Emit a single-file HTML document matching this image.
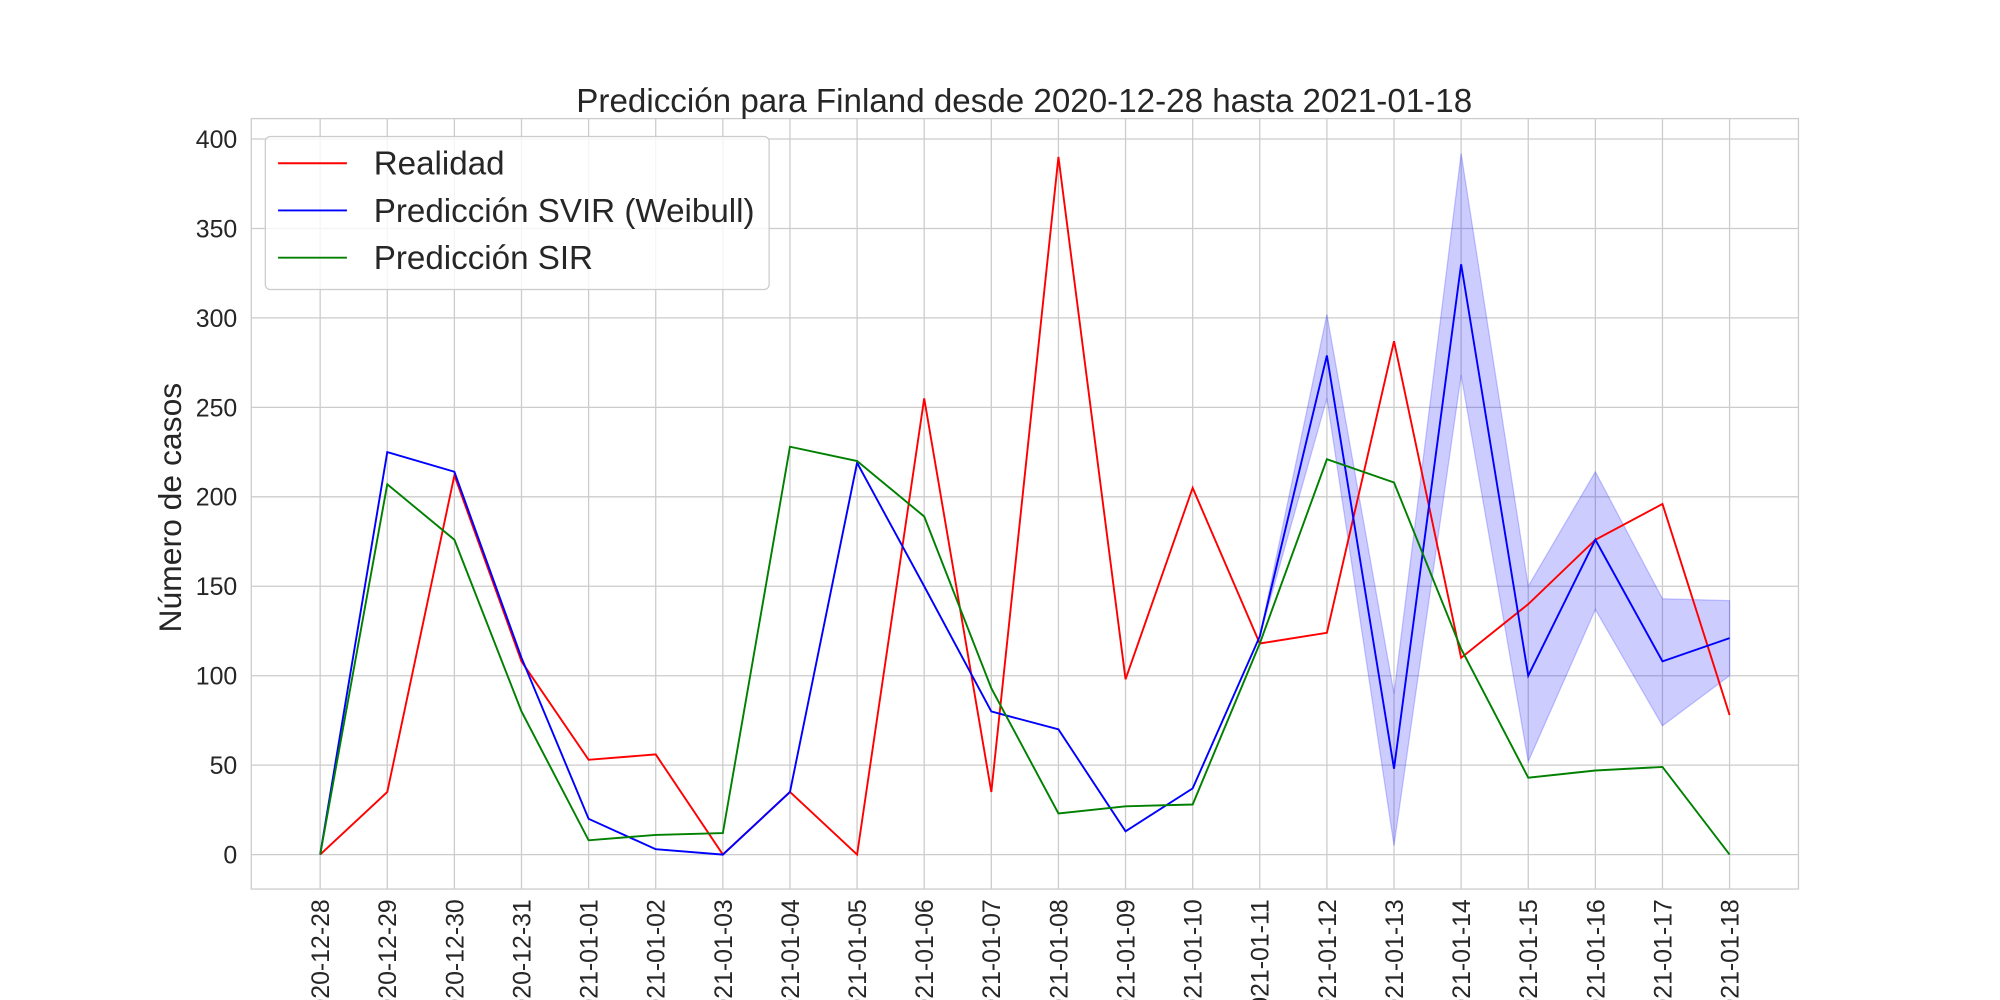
<!DOCTYPE html>
<html><head><meta charset="utf-8"><style>html,body{margin:0;padding:0;background:#fff}svg{display:block}</style></head>
<body>
<svg id="chart" width="2000" height="1000" viewBox="0 0 1568 784" xmlns="http://www.w3.org/2000/svg" font-family="Liberation Sans, sans-serif">
<rect width="1568" height="784" fill="#fff"/>
<g id="grid"></g>
<g id="band"></g>
<g id="lines"></g>
<rect x="197" y="93" width="1213" height="604" fill="none" stroke="#cccccc" stroke-width="1"/>
<g id="yticks"></g>
<g id="xticks"></g>
<text x="803" y="88" text-anchor="middle" font-size="26" fill="#262626">Predicción para Finland desde 2020-12-28 hasta 2021-01-18</text>
<text transform="translate(142,398) rotate(-90)" text-anchor="middle" font-size="25" fill="#262626">Número de casos</text>
<g>
<rect x="208" y="107" width="395" height="120" rx="4" fill="#fff" fill-opacity="0.8" stroke="#cccccc"/>
<g><line x1="218" y1="128" x2="272" y2="128" stroke="red" stroke-width="1.5"/><text x="293" y="137" font-size="26" fill="#262626">Realidad</text></g>
<g><line x1="218" y1="165" x2="272" y2="165" stroke="blue" stroke-width="1.5"/><text x="293" y="174" font-size="26" fill="#262626">Predicción SVIR (Weibull)</text></g>
<g><line x1="218" y1="202" x2="272" y2="202" stroke="green" stroke-width="1.5"/><text x="293" y="211" font-size="26" fill="#262626">Predicción SIR</text></g>
</g>
</svg>
<script>
const dates=["2020-12-28","2020-12-29","2020-12-30","2020-12-31","2021-01-01","2021-01-02","2021-01-03","2021-01-04","2021-01-05","2021-01-06","2021-01-07","2021-01-08","2021-01-09","2021-01-10","2021-01-11","2021-01-12","2021-01-13","2021-01-14","2021-01-15","2021-01-16","2021-01-17","2021-01-18"];
const realidad=[0,35,212,108,53,56,0,35,0,255,35,390,98,205,118,124,287,110,140,176,196,78];
const svir=[0,225,214,110,20,3,0,35,219,150,80,70,13,37,122,279,48,330,100,176,108,121];
const sir=[0,207,176,80,8,11,12,228,220,189,93,23,27,28,118,221,208,115,43,47,49,0];
const svirUpper=[0,225,214,110,20,3,0,35,219,150,80,70,13,37,122,302,90,392,150,214,143,142];
const svirLower=[0,225,214,110,20,3,0,35,219,150,80,70,13,37,122,255,5,268,52,137,72,100];
const yTicks=[0,50,100,150,200,250,300,350,400];
const NS="http://www.w3.org/2000/svg";
function X(i){return 251+i*(1356-251)/(dates.length-1);}
function Y(v){return 670-v*(670-109)/400;}
function mk(tag,attrs,parent){const e=document.createElementNS(NS,tag);for(const k in attrs)e.setAttribute(k,attrs[k]);document.getElementById(parent).appendChild(e);return e;}
yTicks.forEach(v=>{
 const g=mk('line',{x1:197,x2:1410,y1:Y(v),y2:Y(v),stroke:'#cccccc','stroke-width':1},'grid');
 
 
 const t=mk('text',{x:186,y:Y(v)+7,'text-anchor':'end','font-size':19.5,fill:'#262626'},'yticks');
 t.textContent=v;
 
 
});
dates.forEach((d,i)=>{
 const g=mk('line',{x1:X(i),x2:X(i),y1:93,y2:697,stroke:'#cccccc','stroke-width':1},'grid');
 
 
 const t=mk('text',{transform:`translate(${X(i)+7},705) rotate(-90)`,'text-anchor':'end','font-size':19.5,fill:'#262626'},'xticks');
 t.textContent=d;
 
 
});
let bp=svirUpper.map((v,i)=>X(i)+','+Y(v));
for(let i=svirLower.length-1;i>=0;i--)bp.push(X(i)+','+Y(svirLower[i]));
const band=mk('polygon',{points:bp.join(' '),fill:'blue','fill-opacity':0.2,stroke:'blue','stroke-opacity':0.2},'band');


[[realidad,'red','realidad-line'],[svir,'blue','svir-line'],[sir,'green','sir-line']].forEach(([arr,c,n])=>{
 const p=mk('polyline',{points:arr.map((v,i)=>X(i)+','+Y(v)).join(' '),fill:'none',stroke:c,'stroke-width':1.5},'lines');
 
 
});
</script>
</body></html>
